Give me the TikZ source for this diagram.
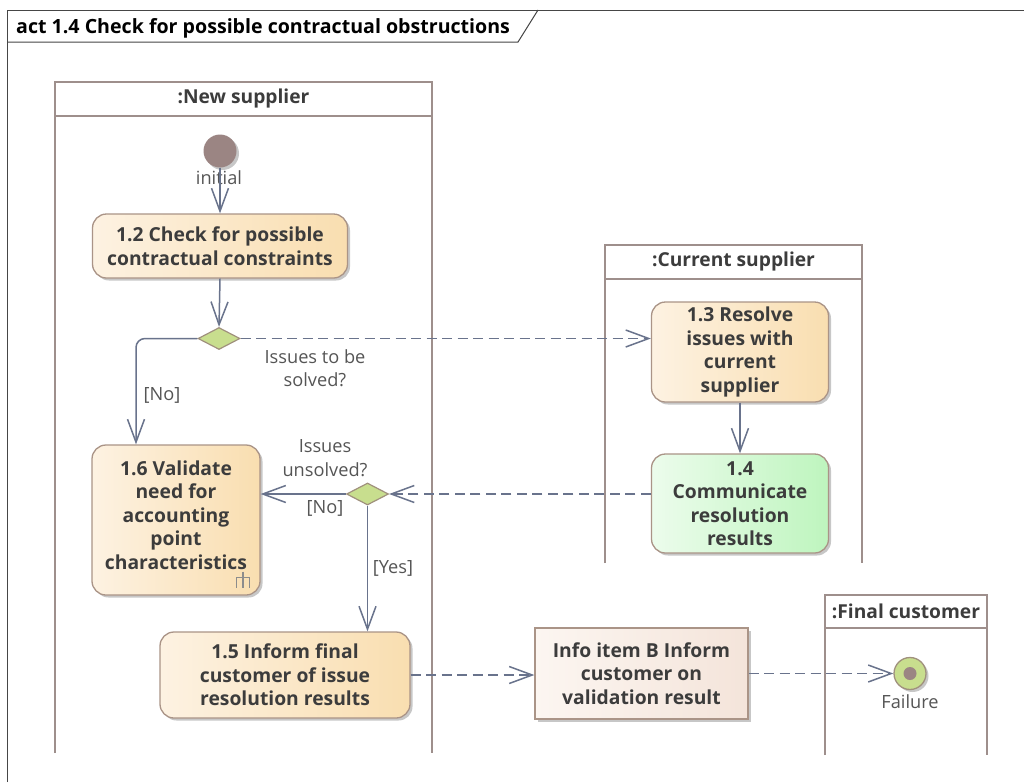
\documentclass[tikz,border=0pt]{standalone}
\usepackage{fontspec}
\setmainfont{Open Sans}
\usetikzlibrary{arrows.meta,shapes.geometric,shadows,calc}
\definecolor{laneC}{RGB}{158,143,140}
\definecolor{frameC}{RGB}{70,70,70}
\definecolor{conC}{RGB}{105,115,140}
\definecolor{bordC}{RGB}{170,148,135}
\definecolor{actL}{RGB}{253,242,226}
\definecolor{actR}{RGB}{249,222,176}
\definecolor{grnL}{RGB}{236,252,236}
\definecolor{grnR}{RGB}{190,245,190}
\definecolor{infL}{RGB}{252,246,241}
\definecolor{infR}{RGB}{244,228,218}
\definecolor{diaC}{RGB}{200,222,142}
\definecolor{diaB}{RGB}{160,145,125}
\definecolor{initC}{RGB}{155,133,131}
\definecolor{txtC}{RGB}{60,60,60}
\definecolor{lblC}{RGB}{85,85,85}
\definecolor{iconC}{RGB}{140,140,140}
\newcommand{\nodefont}{\fontsize{19.3}{23.5}\selectfont\bfseries}
\newcommand{\hdrfont}{\fontsize{19.2}{23.5}\selectfont\bfseries}
\newcommand{\titlefont}{\fontsize{19.6}{23.5}\selectfont\bfseries}
\newcommand{\lblfont}{\fontsize{18.2}{23.5}\selectfont}
\begin{document}
\begin{tikzpicture}[x=1pt,y=-1pt,
  laneline/.style={draw=laneC, line width=2.6pt},
  lanehdr/.style={font=\hdrfont, text=txtC, inner sep=0pt},
  shad/.style={drop shadow={shadow xshift=2.5pt, shadow yshift=-2.5pt, opacity=0.22, fill=black}},
  actbox/.style={draw=bordC, line width=1.3pt, rounded corners=14pt, left color=actL, right color=actR, shad, align=center, font=\nodefont, text=txtC, inner sep=0pt},
  grnbox/.style={actbox, left color=grnL, right color=grnR},
  infobox/.style={draw=bordC, line width=1.3pt, left color=infL, right color=infR, shad, align=center, font=\nodefont, text=txtC, inner sep=0pt},
  decis/.style={diamond, draw=diaB, line width=1.2pt, fill=diaC, inner sep=0pt, minimum width=42pt, minimum height=22pt},
  lbl/.style={font=\lblfont, text=lblC, align=center, inner sep=0pt},
  flow/.style={draw=conC, line width=1.5pt, -{Straight Barb[length=23pt,width=17pt,line width=1.5pt]}},
  dflow/.style={flow, dash pattern=on 10pt off 5.5pt}
]
\useasboundingbox (0,0) rectangle (1024,782);
\fill[white] (0,0) rectangle (1024,782);

% frame
\draw[frameC, line width=1pt] (7,782) -- (7,10) -- (1024,10);
\draw[frameC, line width=1pt] (7,42) -- (518,42) -- (538,10);
\node[anchor=base west, font=\titlefont, text=black, inner sep=0pt] (title) at (16,33.5) {act 1.4 Check for possible contractual obstructions};

% lanes
\draw[laneline] (55,753) -- (55,82) -- (432,82) -- (432,753);
\draw[laneline] (55,116) -- (432,116);
\node[lanehdr] (lnew) at (243.5,99) {:New supplier};

\draw[laneline] (605,563) -- (605,245) -- (862,245) -- (862,563);
\draw[laneline] (605,279) -- (862,279);
\node[lanehdr] (lcur) at (733.5,262) {:Current supplier};

\draw[laneline] (825,755) -- (825,595) -- (987,595) -- (987,755);
\draw[laneline] (825,628) -- (987,628);
\node[lanehdr] (lfin) at (906,611.5) {:Final customer};

% nodes
\node[circle, fill=initC, minimum size=33pt, inner sep=0pt, shad] (init) at (220,151) {};
\node[lbl] (initlbl) at (219,178) {initial};

\node[actbox, minimum width=255pt, minimum height=64pt] (n12) at (220,246) {1.2 Check for possible\\contractual constraints};
\node[decis] (d1) at (219,338.5) {};

\node[actbox, minimum width=177pt, minimum height=100pt] (n13) at (740,352) {1.3 Resolve\\issues with\\current\\supplier};
\node[grnbox, minimum width=177pt, minimum height=99pt] (n14) at (740,503.5) {1.4\\Communicate\\resolution\\results};

\node[actbox, minimum width=168pt, minimum height=150pt,
  label={[font=\nodefont, text=txtC, align=center, inner sep=0pt, yshift=5pt]center:1.6 Validate\\need for\\accounting\\point\\characteristics}] (n16) at (176,520) {};
\draw[iconC, line width=1.3pt] (236,577.5) -- (250,577.5)
  (236.6,577.5) -- (236.6,588) (243,571.5) -- (243,588) (249.4,577.5) -- (249.4,588);

\node[decis] (d2) at (367.5,494) {};

\node[actbox, minimum width=250pt, minimum height=86pt] (n15) at (285,675) {1.5 Inform final\\customer of issue\\resolution results};
\node[infobox, minimum width=213pt, minimum height=91pt] (info) at (641.5,673.5) {Info item B Inform\\customer on\\validation result};

\node[circle, draw=diaB, line width=1.3pt, fill=diaC, minimum size=32pt, inner sep=0pt, shad] (fin) at (910,673.5) {};
\fill[initC] (fin.center) circle (6.5pt);
\node[lbl] (finlbl) at (910,702) {Failure};

% connectors
\draw[flow] (init) -- (n12.north);
\draw[flow] (n12.south) -- (d1.north);
\draw[flow, rounded corners=9pt] (d1.west) -| ([xshift=-40pt]n16.north);
\draw[dflow] (d1.east) -- (d1.east -| n13.west);
\draw[flow] (n13.south) -- (n14.north);
\draw[dflow] (n14.west |- d2.east) -- (d2.east);
\draw[flow] (d2.west) -- (d2.west -| n16.east);
\draw[flow] (d2.south) -- (d2.south |- n15.north);
\draw[dflow] (n15.east) -- (n15.east -| info.west);
\draw[dflow] (info.east) -- (fin.west);

% labels
\node[lbl] (lno1) at (162,395) {[No]};
\node[lbl] (liss1) at (315,368) {Issues to be\\solved?};
\node[lbl] (liss2) at (325,458) {Issues\\unsolved?};
\node[lbl] (lno2) at (325,508) {[No]};
\node[lbl] (lyes) at (393,568) {[Yes]};
\end{tikzpicture}
\end{document}
